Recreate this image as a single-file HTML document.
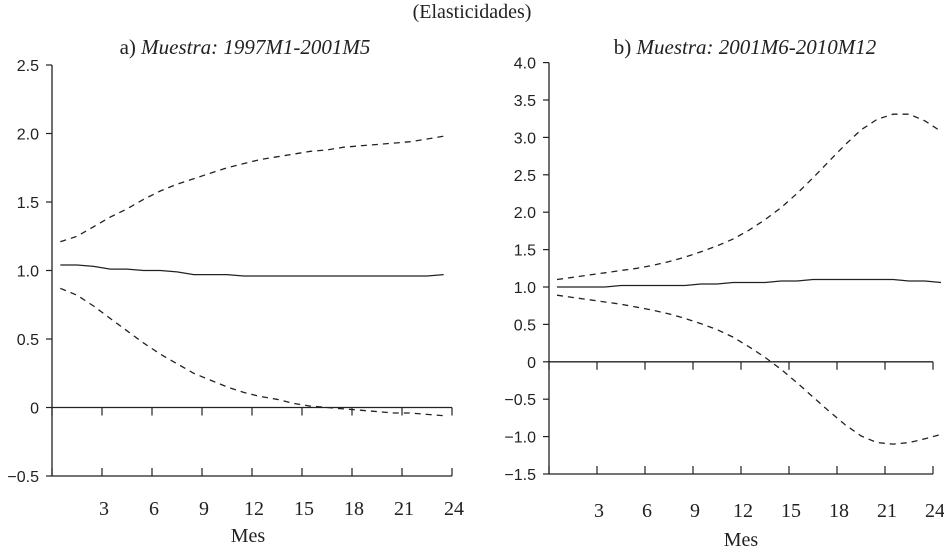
<!DOCTYPE html>
<html><head><meta charset="utf-8"><style>
html,body{margin:0;padding:0;background:#fff;}
svg{display:block;}
.ser{font-family:"Liberation Serif",serif;fill:#222;}
.san{font-family:"Liberation Sans",sans-serif;fill:#222;font-size:16px;}
</style></head><body>
<svg id="c" width="944" height="548">
<text class="ser" x="472" y="18" font-size="20" text-anchor="middle">(Elasticidades)</text>
<text class="ser" x="245" y="54" font-size="21" text-anchor="middle">a) <tspan font-style="italic">Muestra: 1997M1-2001M5</tspan></text>
<text class="ser" x="745" y="54" font-size="21" text-anchor="middle">b) <tspan font-style="italic">Muestra: 2001M6-2010M12</tspan></text>
<g id="gA"></g>
<g id="gB"></g>
</svg>
<script>
const xTicks=[3,6,9,12,15,18,21,24];
const aYTicks=[-0.5,0,0.5,1.0,1.5,2.0,2.5];
const aYLabels=["\u22120.5","0","0.5","1.0","1.5","2.0","2.5"];
const aMonths=[1,2,3,4,5,6,7,8,9,10,11,12,13,14,15,16,17,18,19,20,21,22,23,24];
const aUpper=[1.21,1.25,1.32,1.39,1.45,1.52,1.58,1.63,1.67,1.71,1.75,1.78,1.81,1.83,1.85,1.87,1.88,1.90,1.91,1.92,1.93,1.94,1.96,1.98];
const aMid=[1.04,1.04,1.03,1.01,1.01,1.00,1.00,0.99,0.97,0.97,0.97,0.96,0.96,0.96,0.96,0.96,0.96,0.96,0.96,0.96,0.96,0.96,0.96,0.97];
const aLower=[0.87,0.82,0.74,0.65,0.56,0.47,0.39,0.32,0.25,0.20,0.15,0.11,0.08,0.06,0.03,0.01,0.00,-0.01,-0.02,-0.03,-0.04,-0.04,-0.05,-0.06];
const bYTicks=[-1.5,-1.0,-0.5,0,0.5,1.0,1.5,2.0,2.5,3.0,3.5,4.0];
const bYLabels=["\u22121.5","\u22121.0","\u22120.5","0","0.5","1.0","1.5","2.0","2.5","3.0","3.5","4.0"];
const bMonths=[1,2,3,4,5,6,7,8,9,10,11,12,13,14,15,16,17,18,19,20,21,22,23,24,25];
const bUpper=[1.10,1.13,1.16,1.19,1.22,1.25,1.29,1.34,1.40,1.47,1.55,1.64,1.76,1.90,2.06,2.25,2.46,2.68,2.90,3.10,3.24,3.31,3.31,3.22,3.08];
const bMid=[1.0,1.0,1.0,1.0,1.02,1.02,1.02,1.02,1.02,1.04,1.04,1.06,1.06,1.06,1.08,1.08,1.1,1.1,1.1,1.1,1.1,1.1,1.08,1.08,1.06];
const bLower=[0.89,0.86,0.83,0.80,0.77,0.73,0.69,0.64,0.58,0.51,0.43,0.33,0.20,0.06,-0.10,-0.28,-0.47,-0.66,-0.84,-0.99,-1.08,-1.10,-1.08,-1.03,-0.97];
const NS="http://www.w3.org/2000/svg";
function mk(g,tag,attrs){const e=document.createElementNS(NS,tag);for(const k in attrs)e.setAttribute(k,attrs[k]);g.appendChild(e);return e;}
function panel(gid,cfg){
  const g=document.getElementById(gid);
  const X=m=>cfg.x0+m*cfg.px;
  const Y=v=>cfg.yBot-(v-cfg.yMin)*cfg.py;
  const xEnd=X(24);
  let e=mk(g,'line',{x1:cfg.x0,y1:Y(cfg.yMax),x2:cfg.x0,y2:cfg.yBot,stroke:'#222','stroke-width':1.3});
  
  e=mk(g,'line',{x1:cfg.x0,y1:cfg.yBot,x2:xEnd,y2:cfg.yBot,stroke:'#222','stroke-width':1.3});
  
  e=mk(g,'line',{x1:cfg.x0,y1:Y(0),x2:xEnd,y2:Y(0),stroke:'#222','stroke-width':1.3});
  
  cfg.yt.forEach((v,i)=>{
    e=mk(g,'line',{x1:cfg.x0-6,y1:Y(v),x2:cfg.x0,y2:Y(v),stroke:'#222','stroke-width':1.2});
    
    e=mk(g,'text',{x:cfg.x0-13,y:Y(v)+6,'text-anchor':'end',class:'san'});e.textContent=cfg.yl[i];
    
  });
  [0].concat(xTicks).forEach(m=>{
    e=mk(g,'line',{x1:X(m),y1:cfg.yBot,x2:X(m),y2:cfg.yBot-8,stroke:'#222','stroke-width':1.2});
    
    e=mk(g,'line',{x1:X(m),y1:Y(0),x2:X(m),y2:Y(0)+8,stroke:'#222','stroke-width':1.2});
    
  });
  xTicks.forEach(m=>{
    e=mk(g,'text',{x:X(m)+2,y:cfg.yLab,'text-anchor':'middle',class:'ser','font-size':20});e.textContent=m;
    
  });
  e=mk(g,'text',{x:cfg.mesX,y:cfg.mesY,'text-anchor':'middle',class:'ser','font-size':20});e.textContent='Mes';
  
  const line=(arr,dash,name)=>{
    const d=arr.map((v,i)=>(i?'L':'M')+X(cfg.m[i]-0.5).toFixed(1)+','+Y(v).toFixed(1)).join(' ');
    const p=mk(g,'path',{d:d,fill:'none',stroke:'#222','stroke-width':1.3});
    if(dash)p.setAttribute('stroke-dasharray','6,5');
    
  };
  line(cfg.up,true,'upper-band-line');line(cfg.lo,true,'lower-band-line');line(cfg.mid,false,'elasticity-line');
}
panel('gA',{x0:52,px:400/24,yBot:476,yMin:-0.5,yMax:2.5,py:137,yt:aYTicks,yl:aYLabels,m:aMonths,up:aUpper,mid:aMid,lo:aLower,yLab:515,mesX:248,mesY:542});
panel('gB',{x0:549,px:16,yBot:474,yMin:-1.5,yMax:4.0,py:74.8,yt:bYTicks,yl:bYLabels,m:bMonths,up:bUpper,mid:bMid,lo:bLower,yLab:517,mesX:741,mesY:546});
</script>
</body></html>
